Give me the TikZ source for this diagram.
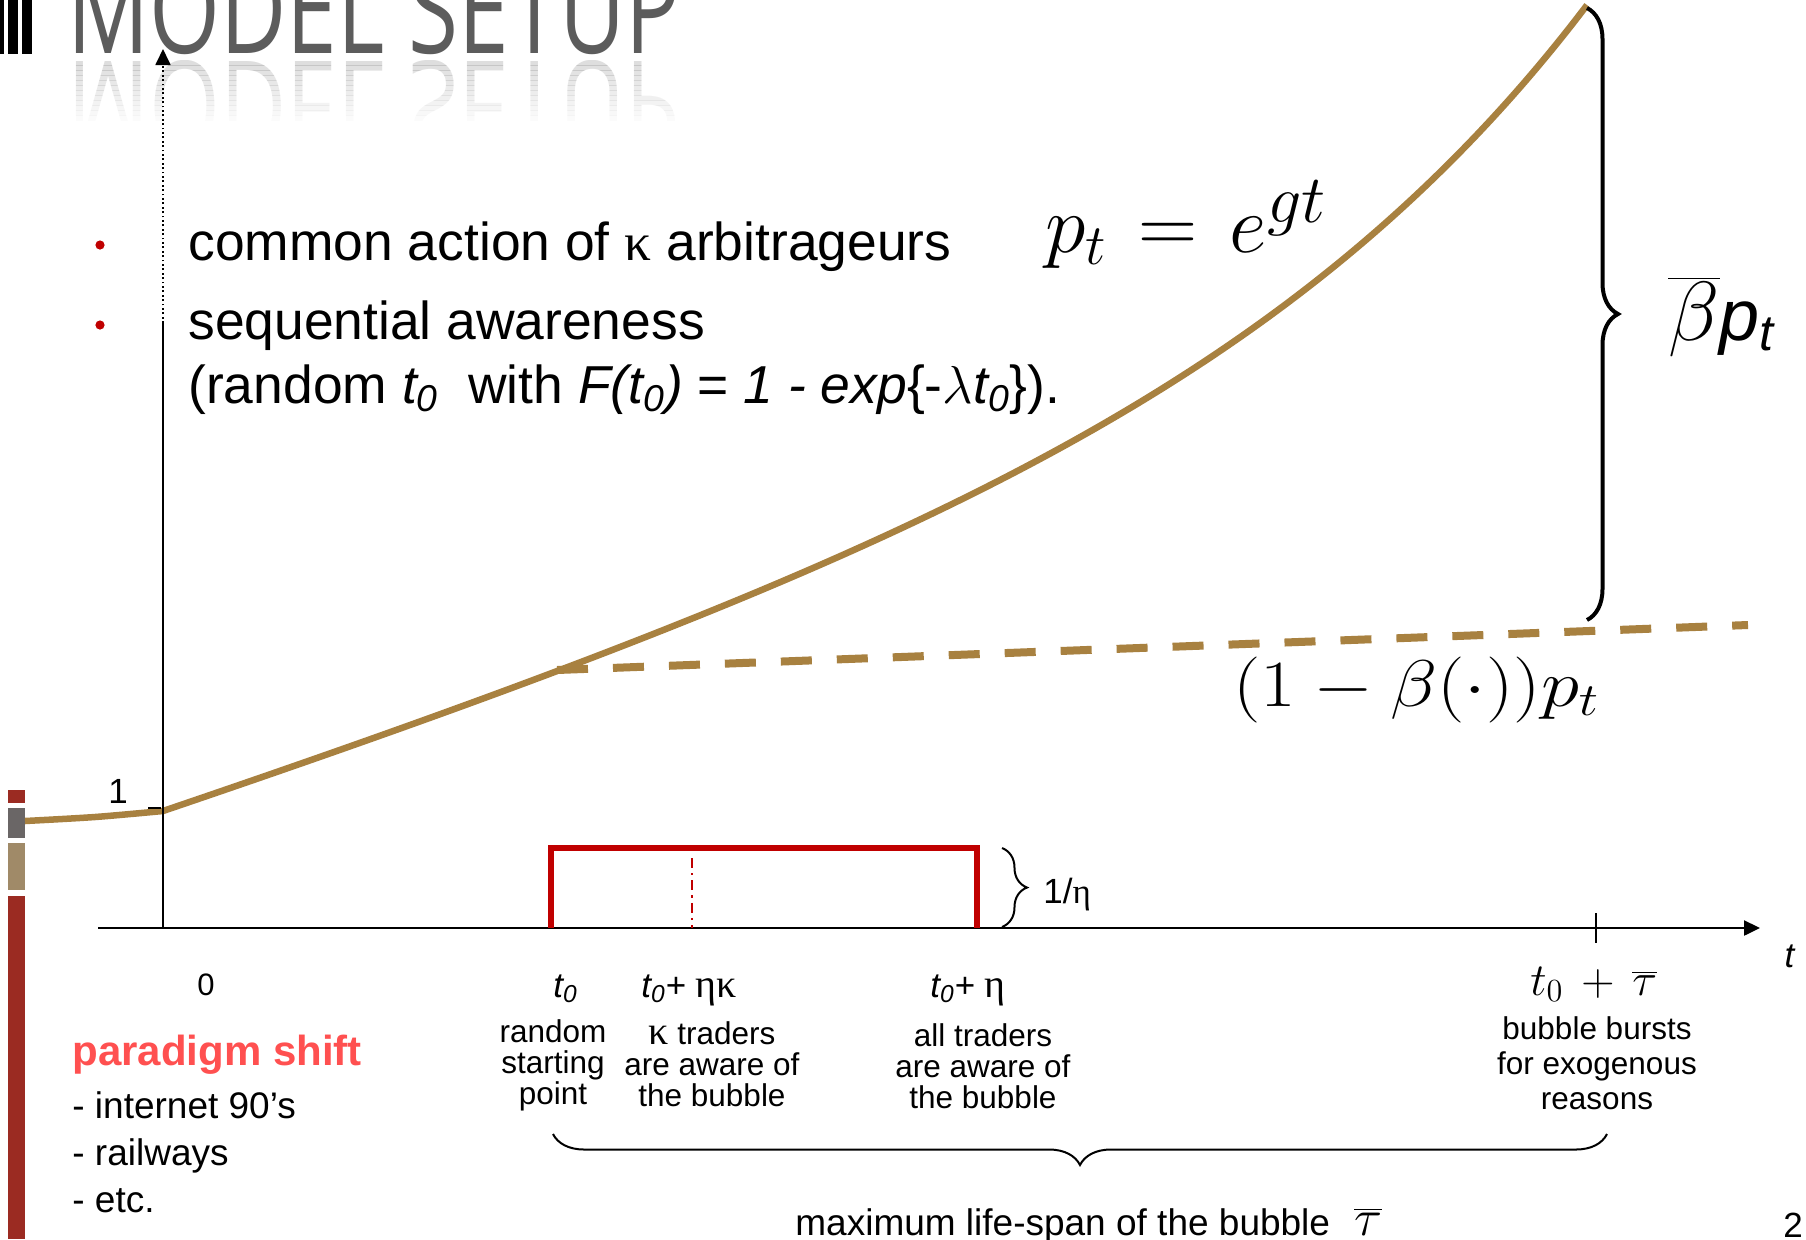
\RequirePackage{fix-cm}
\documentclass[tikz,border=0pt]{standalone}
\usepackage{fontspec}
\setmainfont{Liberation Sans}
\newfontfamily\serifgr{Liberation Serif}
\newfontfamily\titlefont{Open Sans}
\usepackage{graphicx}
\usetikzlibrary{arrows.meta,decorations.pathreplacing}
\definecolor{brn}{RGB}{168,129,64}
\definecolor{boxred}{RGB}{192,0,0}
\definecolor{shiftred}{RGB}{255,80,80}
\definecolor{sbred}{RGB}{155,43,34}
\definecolor{sbgrey}{RGB}{106,102,102}
\definecolor{sbtan}{RGB}{160,138,104}
\definecolor{titlegrey}{RGB}{92,92,92}
\newcommand\fs[2]{\fontsize{#1}{#2}\selectfont}
\newcommand\mytitle{\resizebox{306.5pt}{45pt}{\titlefont MODEL SETUP}}
\begin{document}
\begin{tikzpicture}[x=0.5pt,y=-0.5pt,
  axis/.style={line width=1.2pt, black},
  curvestyle/.style={brn, line width=3.25pt, line join=round},
  dashstyle/.style={brn, line width=4pt, dash pattern=on 15.5pt off 12.5pt},
  boxstyle/.style={boxred, line width=3.25pt},
  bracestyle/.style={decorate, decoration={brace, amplitude=#1}},
  lbl/.style={inner sep=0pt, font=\fs{17.5pt}{20pt}},
  desc/.style={inner sep=0pt, align=center, anchor=north, font=\fs{15.75pt}{15.5pt}},
  tipstyle/.style={-{Triangle[length=8pt,width=7.5pt]}}
]
\fill[white] (0,0) rectangle (1806,1239);
\useasboundingbox (0,0) rectangle (1806,1239);

% left sidebar
\fill[sbred] (8,790) rectangle (25,803);
\fill[sbgrey] (8,808) rectangle (25,838);
\fill[sbtan] (8,843) rectangle (25,890);
\fill[sbred] (8,896) rectangle (25,1239);

% title bars and title
\fill[black] (0,0) rectangle (4,54);
\fill[black] (8,0) rectangle (18,54);
\fill[black] (22,0) rectangle (32,54);
\node[anchor=base west, inner sep=0, text=titlegrey] (title) at (67,53) {\mytitle};
\foreach \k [evaluate=\k as \op using 0.2-0.016*\k] in {0,...,11}{
  \begin{scope}
    \clip (60,{60+5*\k}) rectangle (700,{65+5*\k});
    \node[anchor=north west, inner sep=0, text=titlegrey, opacity=\op] (refl\k) at (67,60) {\scalebox{1}[-1]{\mytitle}};
  \end{scope}
}

% price curve
\draw[curvestyle] plot[smooth] coordinates {(25,821) (95,817) (163,811)};
\draw[curvestyle] plot[domain=163:1587, samples=90, smooth] (\x, {811 - 0.3218*(\x-163) - 6.5*(exp(0.0028*(\x-163))-1)});
\coordinate (dashA) at (557,670);
\coordinate (dashB) at (1748,625);
\draw[dashstyle] (dashA) -- (dashB);

% axes
\coordinate (O) at (163,928);
\coordinate (ybrk) at (163,323);
\coordinate (ytop) at (163,49);
\coordinate (xl) at (98,928);
\coordinate (xr) at (1760,928);
\draw[axis] (O) -- (ybrk);
\draw[line width=0.9pt, dash pattern=on 0.9pt off 1.3pt, tipstyle] (ybrk) -- (ytop);
\draw[axis, tipstyle] (xl) -- (xr);
\draw[line width=1pt] (1596,913) -- (1596,943);
\draw[line width=0.8pt] (148,808) -- (161,808);

% uniform density box
\draw[boxstyle] (551,928) -- (551,848) -- (977,848) -- (977,928);
\draw[boxred, line width=1pt, dash pattern=on 5pt off 2.5pt on 1.2pt off 2.5pt] (692,858) -- (692,928);

% braces
\coordinate (bigT) at (1587,8);
\coordinate (bigB) at (1587,620);
\draw[line width=2pt, bracestyle=15.5pt] (bigT) -- (bigB);
\coordinate (smT) at (1002,848);
\coordinate (smB) at (1002,927);
\draw[line width=1pt, bracestyle=12.5pt] (smT) -- (smB);
\coordinate (botR) at (1607,1134);
\coordinate (botL) at (553,1134);
\draw[line width=1pt, bracestyle=15.5pt] (botR) -- (botL);

% bullets
\fill[boxred] (100,245) circle[radius=2.3pt];
\fill[boxred] (100,325) circle[radius=2.3pt];
\node[anchor=base west, inner sep=0, font=\fs{26.7pt}{32pt}] (b1) at (188,260) {common action of {\serifgr κ} arbitrageurs};
\node[anchor=base west, inner sep=0, font=\fs{26.7pt}{32pt}] (b2) at (188,339) {sequential awareness};
\node[anchor=base west, inner sep=0, font=\fs{26.7pt}{32pt}] (b3) at (188,403) {(random \textit{t\textsubscript{0}}\ \ with \textit{F(t\textsubscript{0})} = \textit{1 - exp}\{-$\lambda$\textit{t\textsubscript{0}}\}).};

% formulas
\node[anchor=base west, inner sep=0, font=\fs{41pt}{44pt}] (pe) at (1045,252) {$p_t\mkern2mu = \mkern2mu e^{\mbox{\fs{34pt}{34pt}$gt$}}$};
\node[anchor=base west, inner sep=0] (bp) at (1668,340) {\fs{42pt}{44pt}$\overline{\beta}$\fs{36pt}{40pt}\textit{p\textsubscript{t}}};
\node[anchor=base west, inner sep=0, font=\fs{33pt}{36pt}] (eq2) at (1233,706) {\scalebox{1.17}[1]{$(1-\beta(\cdot))p_t$}};

% axis labels
\node[anchor=base, inner sep=0, font=\fs{15.5pt}{18pt}] (zero) at (206,995) {0};
\node[lbl, anchor=base] (one) at (118,803) {1};
\node[lbl, anchor=base] (tlab) at (1790,967) {\textit{t}};
\node[lbl, anchor=base west] (eta) at (1043,903) {1/{\serifgr η}};
\node[lbl, anchor=base west] (l0) at (553,997) {\textit{t\textsubscript{0}}};
\node[lbl, anchor=base west] (l1) at (641,997) {\textit{t\textsubscript{0}}+ {\serifgr\fs{20pt}{20pt}ηκ}};
\node[lbl, anchor=base west] (l2) at (930,997) {\textit{t\textsubscript{0}}+ {\serifgr\fs{20pt}{20pt}η}};
\node[anchor=base west, inner sep=0, font=\fs{23pt}{26pt}] (l3) at (1530,995) {$t_0\mkern3mu+\mkern3mu\overline{\tau}$};

% descriptions
\node[desc] (d1) at (553,1019) {random\\starting\\point};
\node[desc] (d2) at (712,1021) {{\serifgr\fs{20pt}{15.5pt}κ} traders\\are aware of\\the bubble};
\node[desc] (d3) at (983,1023) {all traders\\are aware of\\the bubble};
\node[desc, font=\fs{15.75pt}{17.5pt}] (d4) at (1597,1016) {bubble bursts\\for exogenous\\reasons};

% paradigm shift
\node[anchor=base west, inner sep=0, font=\bfseries\fs{21pt}{24pt}, text=shiftred] (ps) at (72,1065) {paradigm shift};
\node[anchor=north west, inner sep=0, align=left, font=\fs{18.5pt}{23.5pt}] (ex) at (72,1091) {- internet 90’s\\- railways\\- etc.};

% bottom text
\node[anchor=base west, inner sep=0, font=\fs{18.5pt}{20pt}] (ml) at (795,1235) {maximum life-span of the bubble\hspace{12pt}\fs{26pt}{28pt}$\overline{\tau}$};
\node[lbl, anchor=base west] (pg) at (1783,1237) {2};
\end{tikzpicture}
\end{document}
